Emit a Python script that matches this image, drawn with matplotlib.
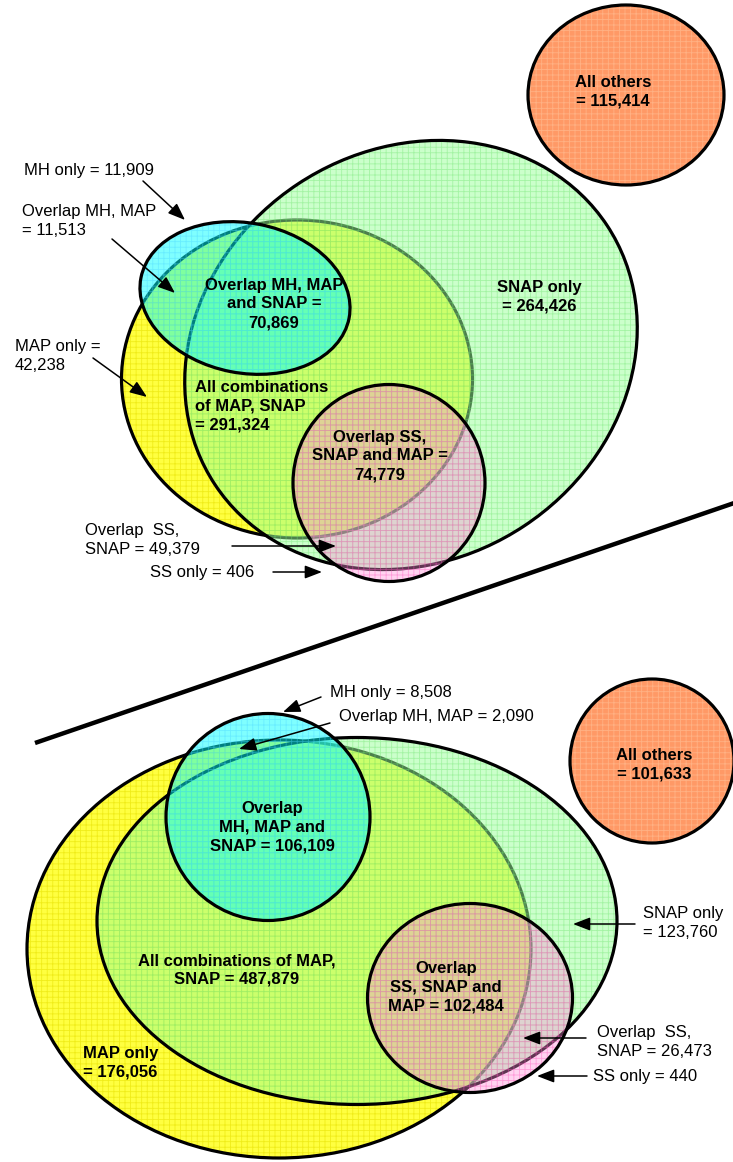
import matplotlib
matplotlib.use("Agg")
import matplotlib.pyplot as plt
from matplotlib.patches import Ellipse

plt.rcParams['font.family'] = ['Liberation Sans', 'DejaVu Sans']
plt.rcParams['hatch.linewidth'] = 0.6

# ---------------- data ----------------
region_names = ["MH only", "Overlap MH, MAP", "MAP only", "Overlap MH, MAP and SNAP",
                "All combinations of MAP, SNAP", "SNAP only", "Overlap SS, SNAP and MAP",
                "Overlap SS, SNAP", "SS only", "All others"]
top_counts = [11909, 11513, 42238, 70869, 291324, 264426, 74779, 49379, 406, 115414]
bottom_counts = [8508, 2090, 176056, 106109, 487879, 123760, 102484, 26473, 440, 101633]

top_formats = ["MH only = {}", "Overlap MH, MAP\n= {}", "MAP only =\n{}",
               "Overlap MH, MAP\nand SNAP =\n{}", "All combinations\nof MAP, SNAP\n= {}",
               "SNAP only\n= {}", "Overlap SS,\nSNAP and MAP =\n{}", "Overlap  SS,\nSNAP = {}",
               "SS only = {}", "All others\n= {}"]
bottom_formats = ["MH only = {}", "Overlap MH, MAP = {}", "MAP only\n= {}",
                  "Overlap\nMH, MAP and\nSNAP = {}", "All combinations of MAP,\nSNAP = {}",
                  "SNAP only\n= {}", "Overlap\nSS, SNAP and\nMAP = {}", "Overlap  SS,\nSNAP = {}",
                  "SS only = {}", "All others\n= {}"]
top_bold = [False, False, False, True, True, True, True, False, False, True]
bottom_bold = [False, False, True, True, True, False, True, False, False, True]

# ---------------- layout (pixel space) ----------------
# sets: name -> (cx, cy, width, height, angle)
top_sets = {
    'MAP': (297, 379, 351, 318, 0),
    'SNAP': (411, 355, 470, 410, -33.5),
    'MH': (245, 298, 212, 150, 11),
    'SS': (389, 483, 192, 197, 0),
    'OTHERS': (626, 95, 196, 180, 0),
}
bottom_sets = {
    'MAP': (279, 949, 504, 418, 0),
    'SNAP': (357, 921, 520, 367, 0),
    'MH': (268, 817, 204, 207, 0),
    'SS': (470, 998, 205, 189, 0),
    'OTHERS': (652, 761, 164, 164, 0),
}
styles = {
    'MAP': dict(face=(1.0, 1.0, 0.25, 1.0), hatch=(0.90, 0.88, 0.0, 0.6)),
    'SNAP': dict(face=(0.6, 1.0, 0.6, 0.5), hatch=(0.45, 0.90, 0.45, 0.45)),
    'MH': dict(face=(0.0, 1.0, 1.0, 0.5), hatch=(0.3, 0.85, 1.0, 0.45)),
    'SS': dict(face=(1.0, 0.55, 0.85, 0.38), hatch=(1.0, 0.35, 0.75, 0.45)),
    'OTHERS': dict(face=(1.0, 0.6, 0.4, 1.0), hatch=(1.0, 0.72, 0.55, 0.8)),
}
order = ['MAP', 'SNAP', 'MH', 'SS', 'OTHERS']

# text layout per region index: (x, y, ha)
top_text = [(24, 170, 'left'), (22, 221, 'left'), (15, 356, 'left'), (274, 304, 'center'),
            (195, 406, 'left'), (539, 297, 'center'), (380, 456, 'center'),
            (85, 540, 'left'), (150, 573, 'left'), (613, 92, 'center')]
bottom_text = [(330, 693, 'left'), (339, 717, 'left'), (83, 1063, 'left'), (272, 827, 'center'),
               (237, 970, 'center'), (643, 923, 'left'), (446, 987, 'center'),
               (597, 1042, 'left'), (593, 1076, 'left'), (654, 765, 'center')]
# arrows: region index -> (tail, head)
top_arrows = {0: ((143, 181), (185, 220)), 1: ((112, 239), (175, 293)),
              2: ((93, 358), (147, 397)), 7: ((232, 546), (336, 546)),
              8: ((273, 572), (322, 572))}
bottom_arrows = {0: ((321, 697), (283, 712)), 1: ((330, 723), (239, 749)),
                 5: ((635, 924), (573, 924)), 7: ((586, 1038), (523, 1038)),
                 8: ((587, 1076), (537, 1076))}
divider = ((35, 743), (740, 501))

W, H = 733, 1162
fig = plt.figure(figsize=(W / 100, H / 100), dpi=100)
ax = fig.add_axes([0, 0, 1, 1])
ax.set_xlim(0, W)
ax.set_ylim(H, 0)
ax.axis('off')


def draw_sets(sets):
    z = 1
    for name in order:
        cx, cy, w, h, ang = sets[name]
        st = styles[name]
        ax.add_patch(Ellipse((cx, cy), w, h, angle=ang, facecolor=st['face'],
                             edgecolor='none', lw=0, zorder=z))
        ax.add_patch(Ellipse((cx, cy), w, h, angle=ang, facecolor='none',
                             edgecolor=st['hatch'], hatch='+++', lw=0, zorder=z + 0.1))
        ax.add_patch(Ellipse((cx, cy), w, h, angle=ang, facecolor='none',
                             edgecolor='black', lw=2.3, zorder=z + 0.2))
        z += 1


def draw_labels(counts, formats, bold, textpos, arrows):
    for i, (c, f, b) in enumerate(zip(counts, formats, bold)):
        x, y, ha = textpos[i]
        ax.text(x, y, f.format(f"{c:,}"), ha=ha, va='center', multialignment=ha,
                fontsize=12, fontweight='bold' if b else 'normal', color='black',
                linespacing=1.33, zorder=20)
    for i, (tail, head) in arrows.items():
        ax.annotate('', xy=head, xytext=tail,
                    arrowprops=dict(arrowstyle='-|>,head_length=0.65,head_width=0.25',
                                    color='black', lw=1.1,
                                    mutation_scale=16, shrinkA=0, shrinkB=0),
                    zorder=21)


draw_sets(top_sets)
draw_sets(bottom_sets)
draw_labels(top_counts, top_formats, top_bold, top_text, top_arrows)
draw_labels(bottom_counts, bottom_formats, bottom_bold, bottom_text, bottom_arrows)
ax.plot([divider[0][0], divider[1][0]], [divider[0][1], divider[1][1]],
        color='black', lw=3.2, solid_capstyle='butt', zorder=30)

fig.savefig('out.png', dpi=100)
